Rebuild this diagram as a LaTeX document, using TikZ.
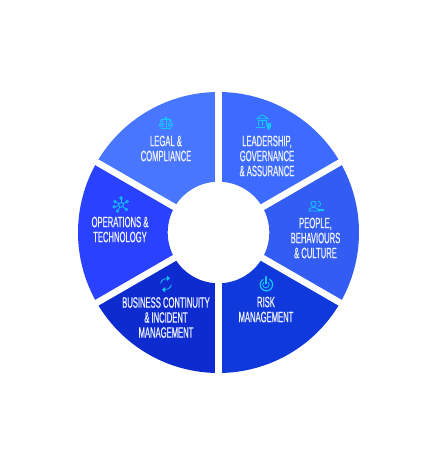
\documentclass[tikz,border=0pt]{standalone}
\usepackage{fontspec}
\newfontfamily\wheelfont[FakeStretch=0.51,FakeBold=0.6]{Liberation Sans}
\usetikzlibrary{calc}
\definecolor{LegalBlue}{RGB}{72,118,255}
\definecolor{LeaderBlue}{RGB}{62,107,255}
\definecolor{PeopleBlue}{RGB}{51,92,242}
\definecolor{RiskBlue}{RGB}{16,57,220}
\definecolor{ContinuityBlue}{RGB}{14,43,208}
\definecolor{OperationsBlue}{RGB}{42,65,255}
\definecolor{IconCyan}{RGB}{20,200,255}
\definecolor{LabelWhite}{RGB}{238,242,255}
\tikzset{
  segment/.style={draw=none},
  gapline/.style={draw=white,line width=6.5pt},
  label/.style={text=LabelWhite,align=center,inner sep=0pt,
    font=\wheelfont\fontsize{15}{15}\selectfont},
  iconline/.style={draw=IconCyan,line width=0.8pt,fill=none},
  iconfill/.style={fill=IconCyan,draw=none}
}
\newcommand{\wheelseg}[3]{%
  \fill[segment,#1] (#2:140.5) arc[start angle=#2,end angle=#3,radius=140.5]
    -- (#3:50.8) arc[start angle=#3,end angle=#2,radius=50.8] -- cycle;}
\begin{document}
\begin{tikzpicture}[x=1pt,y=1pt]
  \useasboundingbox (-218.5,-217.5) rectangle (218.5,232.5);
  % ring
  \wheelseg{LegalBlue}{90}{150}
  \wheelseg{LeaderBlue}{30}{90}
  \wheelseg{PeopleBlue}{-30}{30}
  \wheelseg{RiskBlue}{-90}{-30}
  \wheelseg{ContinuityBlue}{-150}{-90}
  \wheelseg{OperationsBlue}{150}{210}
  \foreach \a in {30,90,...,330}
    \draw[gapline] (\a:48) -- (\a:143);
  % labels
  \node[label] (legal) at (-52.5,84) {LEGAL \&\\COMPLIANCE};
  \node[label] (leader) at (48.5,76.5) {LEADERSHIP,\\GOVERNANCE\\\& ASSURANCE};
  \node[label] (people) at (97,-5.5) {PEOPLE,\\BEHAVIOURS\\\& CULTURE};
  \node[label] (risk) at (47.5,-77) {RISK\\MANAGEMENT};
  \node[label] (continuity) at (-52.5,-85) {BUSINESS CONTINUITY\\\& INCIDENT\\MANAGEMENT};
  \node[label] (operations) at (-98.5,3) {OPERATIONS \&\\TECHNOLOGY};
  % scales
  \begin{scope}[shift={(-52.5,109.5)},scale=.75]
    \draw[iconline] (-7,-7.5) -- (7,-7.5) (0,-7.5) -- (0,6) (-6,5) -- (6,5);
    \draw[iconline] (-6,5) -- (-8.5,-2) -- (-3.5,-2) -- cycle (-9,-2) arc[start angle=180,end angle=360,radius=3];
    \draw[iconline] (6,5) -- (3.5,-2) -- (8.5,-2) -- cycle (3,-2) arc[start angle=180,end angle=360,radius=3];
    \draw[iconline] (0,6.5) circle (1.3);
  \end{scope}
  % bank with shield
  \begin{scope}[shift={(45.5,110.5)},scale=.8]
    \draw[iconline] (-9,4) -- (-2,9) -- (5,4) -- cycle;
    \draw[iconline] (-7,2) -- (-7,-5) (-2,2) -- (-2,-5) (3,2) -- (3,-3);
    \draw[iconline] (-10,-7) -- (1,-7) (-8,2) -- (4,2);
    \fill[IconCyan] (3,-2) -- (9,-1) -- (9,-5) .. controls (9,-8) and (6,-10) .. (6,-10)
      .. controls (6,-10) and (3,-8) .. (3,-5) -- cycle;
  \end{scope}
  % people
  \begin{scope}[shift={(97.5,26.5)}]
    \draw[iconline] (-2.5,2.2) circle (2.6);
    \draw[iconline] (2,4.8) arc[start angle=90,end angle=-90,radius=2.6];
    \draw[iconline] (-7,-5) -- (4,-5) (-7,-5) .. controls (-7.5,-2) and (-4,-1.5) .. (-2.5,-1.5)
      .. controls (0,-1.5) and (3,-2.5) .. (4,-5);
    \fill[IconCyan] (2,-5.5) rectangle (8,-2.8);
  \end{scope}
  % power target
  \begin{scope}[shift={(47.5,-52)}]
    \draw[iconline,line width=1.2pt] (3.5,5.2) arc[start angle=60,end angle=-240,radius=6.2];
    \draw[iconline] (2.3,2.3) arc[start angle=45,end angle=-225,radius=3.3];
    \draw[iconline,line width=2.2pt,line cap=round] (0,7.5) -- (0,1);
  \end{scope}
  % refresh arrows
  \begin{scope}[shift={(-52.5,-51.5)}]
    \draw[iconline] (-5.3,0.5) arc[start angle=175,end angle=65,radius=5.3];
    \draw[iconline] (5.3,-0.5) arc[start angle=-5,end angle=-115,radius=5.3];
    \fill[IconCyan] (4,5.8) -- (0.8,8.3) -- (0.8,3) -- cycle;
    \fill[IconCyan] (-4,-5.8) -- (-0.8,-8.3) -- (-0.8,-3) -- cycle;
  \end{scope}
  % network
  \begin{scope}[shift={(-97.5,27.5)},scale=.78]
    \foreach \a in {90,30,-40,-120,-165,150}{
      \draw[iconline] (\a:3) -- (\a:7.5);
      \draw[iconline] (\a:9) circle (1.6);
    }
    \draw[iconline] (0,0) circle (3);
  \end{scope}
\end{tikzpicture}
\end{document}
